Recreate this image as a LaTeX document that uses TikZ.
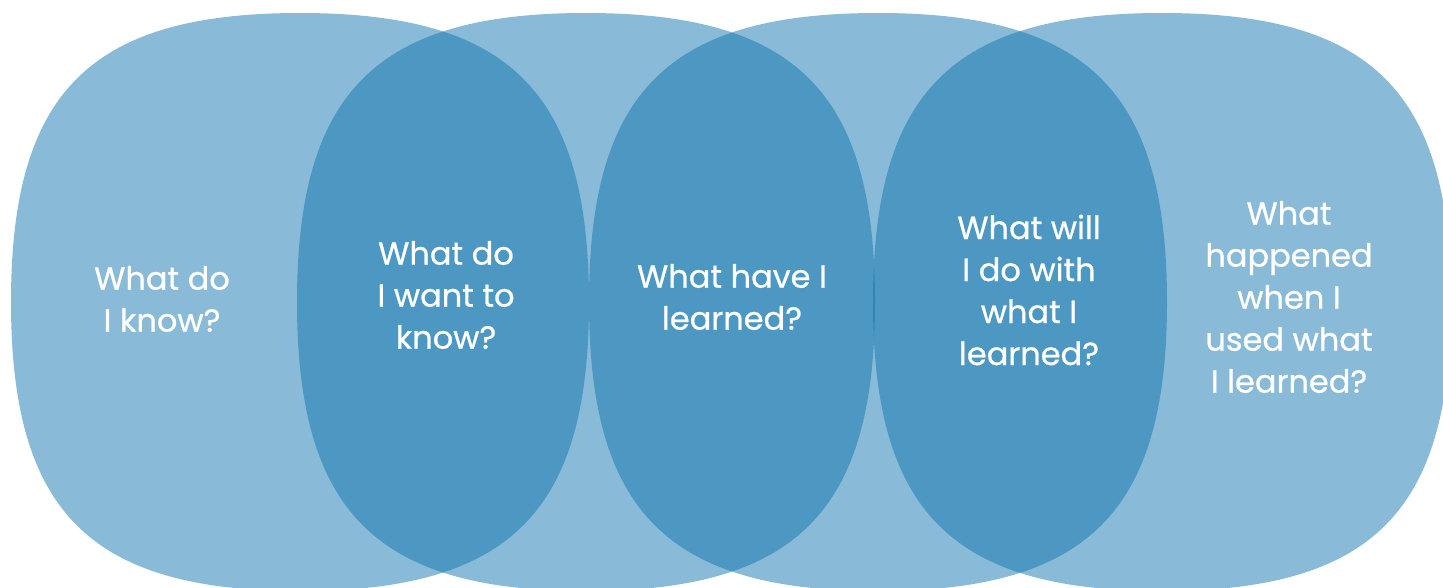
\documentclass[tikz,border=0pt]{standalone}
\usepackage{fontspec}
\setmainfont{Poppins}
\newfontfamily\qfont{Poppins}[FakeBold=0.7]

\definecolor{kwlblue}{RGB}{19,117,175}

\tikzset{
	blob/.style = {fill = kwlblue, fill opacity = 0.5},
	question/.style = {text = white, align = center, font = \qfont\fontsize{32}{42}\selectfont}
}

\begin{document}
\begin{tikzpicture}[x = 1pt, y = -1pt]
					\useasboundingbox (0, 0) rectangle (1443, 587);
					\clip (0, 0) rectangle (1443, 587);

					\coordinate (k1) at (300, 302);
					\coordinate (k2) at (586, 302);
					\coordinate (k3) at (878, 302);
					\coordinate (k4) at (1162, 302);

					% squarish rounded blobs, half transparent so the overlaps go darker
					\foreach \k in {k1, k2, k3, k4}
						\fill [blob, shift = {(\k)}] (-289, 0)
							.. controls (-289, -210) and (-210, -289) .. (0, -289)
							.. controls (210, -289) and (289, -210) .. (289, 0)
							.. controls (289, 210) and (210, 289) .. (0, 289)
							.. controls (-210, 289) and (-289, 210) .. (-289, 0) -- cycle;

					\node [question] (q1) at (162, 299) {What do\\I know?};
					\node [question] (q2) at (446, 295) {What do\\I want to\\know?};
					\node [question] (q3) at (732, 297) {What have I\\learned?};
					\node [question] (q4) at (1029, 290) {What will\\I do with\\what I\\learned?};
					\node [question] (q5) at (1289, 297) {What\\happened\\when I\\used what\\I learned?};
				\end{tikzpicture}
\end{document}
